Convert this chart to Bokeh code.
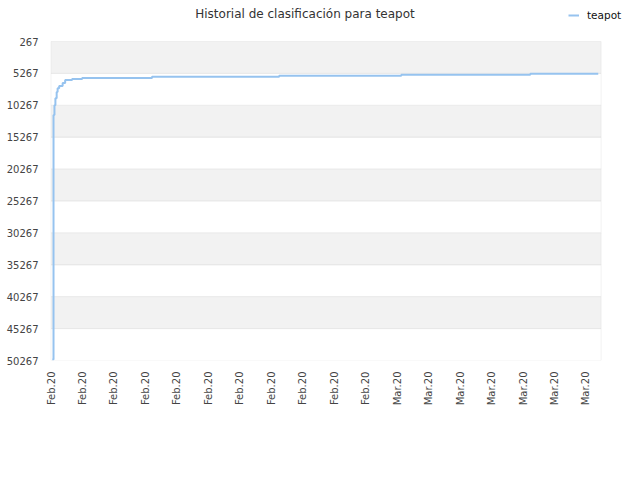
import math
from bokeh.plotting import figure
from bokeh.models import FixedTicker, Range1d, Legend, LegendItem, BoxAnnotation, Label
from bokeh.embed import file_html
from bokeh.resources import INLINE

# ---- data ----
title_text = "Historial de clasificación para teapot"
series_name = "teapot"
x_pos = [0.04, 0.08, 0.11, 0.14, 0.18, 0.21, 0.26, 0.37, 0.45, 0.67, 0.99, 3.21, 7.25, 11.13, 15.23, 17.39]
ranks = [50100, 11800, 10250, 9150, 8200, 7580, 7260, 6790, 6320, 6160, 6000, 5800, 5640, 5490, 5330, 5330]
x_tick_labels = ["Feb.20"] * 11 + ["Mar.20"] * 7
y_ticks = [267, 5267, 10267, 15267, 20267, 25267, 30267, 35267, 40267, 45267, 50267]
x_end = 17.48  # right edge of the plotted period (tick units)

FONT = "DejaVu Sans"

# layout constants (pixels)
PX_PER_X = 31.47
PLOT_TOP_PX = 41          # where the top tick sits
PLOT_H_PX = 319           # top tick to bottom tick
FIG_W, FIG_H = 624, 464
BORDER_L, BORDER_B = 49, 104
PAD_L = 1.5               # pixels of frame left of x=0, so the left frame line is visible
frame_w = FIG_W - BORDER_L
y_span = y_ticks[-1] - y_ticks[0]
y_top_val = y_ticks[0] - PLOT_TOP_PX * y_span / PLOT_H_PX

p = figure(width=FIG_W, height=FIG_H, output_backend="svg", toolbar_location=None,
           x_range=Range1d(-PAD_L / PX_PER_X, (frame_w - PAD_L) / PX_PER_X),
           y_range=Range1d(y_ticks[-1], y_top_val),
           min_border_left=BORDER_L, min_border_right=0, min_border_top=0,
           min_border_bottom=BORDER_B)

p.outline_line_color = None
p.background_fill_color = "white"
p.border_fill_color = "white"

# alternating bands + grid lines + frame (box edges)
for i in range(len(y_ticks) - 1):
    gray = (i % 2 == 0)
    p.add_layout(BoxAnnotation(left=0, right=x_end, bottom=y_ticks[i], top=y_ticks[i + 1],
                               fill_color="#f2f2f2", fill_alpha=1.0 if gray else 0.0,
                               line_color="#d8d8d8", line_width=1, level="underlay"))

# axes
p.xaxis.ticker = FixedTicker(ticks=list(range(len(x_tick_labels))))
p.xaxis.major_label_overrides = {i: lab for i, lab in enumerate(x_tick_labels)}
p.xaxis.major_label_orientation = math.pi / 2
p.yaxis.ticker = FixedTicker(ticks=y_ticks)
for ax in (p.xaxis[0], p.yaxis[0]):
    ax.axis_line_color = None
    ax.major_tick_line_color = None
    ax.minor_tick_line_color = None
    ax.major_tick_out = 0
    ax.major_tick_in = 0
    ax.major_label_text_font = FONT
    ax.major_label_text_font_size = "10px"
    ax.major_label_text_color = "#444444"
p.yaxis.major_label_standoff = 11
p.xaxis.major_label_standoff = 11

p.xgrid.grid_line_color = None
p.ygrid.grid_line_color = None

r = p.step(x_pos, ranks, mode="after", line_color="#96c3ef", line_width=2)

# title (drawn inside the canvas area above the plot)
title_x = (304 - 50) / PX_PER_X
title_y = y_ticks[0] - (PLOT_TOP_PX - 13) * y_span / PLOT_H_PX
p.add_layout(Label(x=title_x, y=title_y, text=title_text, text_align="center",
                   text_baseline="middle", text_font=FONT, text_font_size="12px",
                   text_color="#333333"))

legend = Legend(items=[LegendItem(label=series_name, renderers=[r])],
                location=(519, 464 - BORDER_B - 21), orientation="horizontal",
                border_line_color=None, background_fill_alpha=0,
                padding=0, margin=0, glyph_width=11, glyph_height=12,
                label_standoff=8, label_text_font=FONT, label_text_font_size="10.5px",
                label_text_color="#111111")
p.add_layout(legend, "center")

open("out.html", "w").write(file_html(p, INLINE))
